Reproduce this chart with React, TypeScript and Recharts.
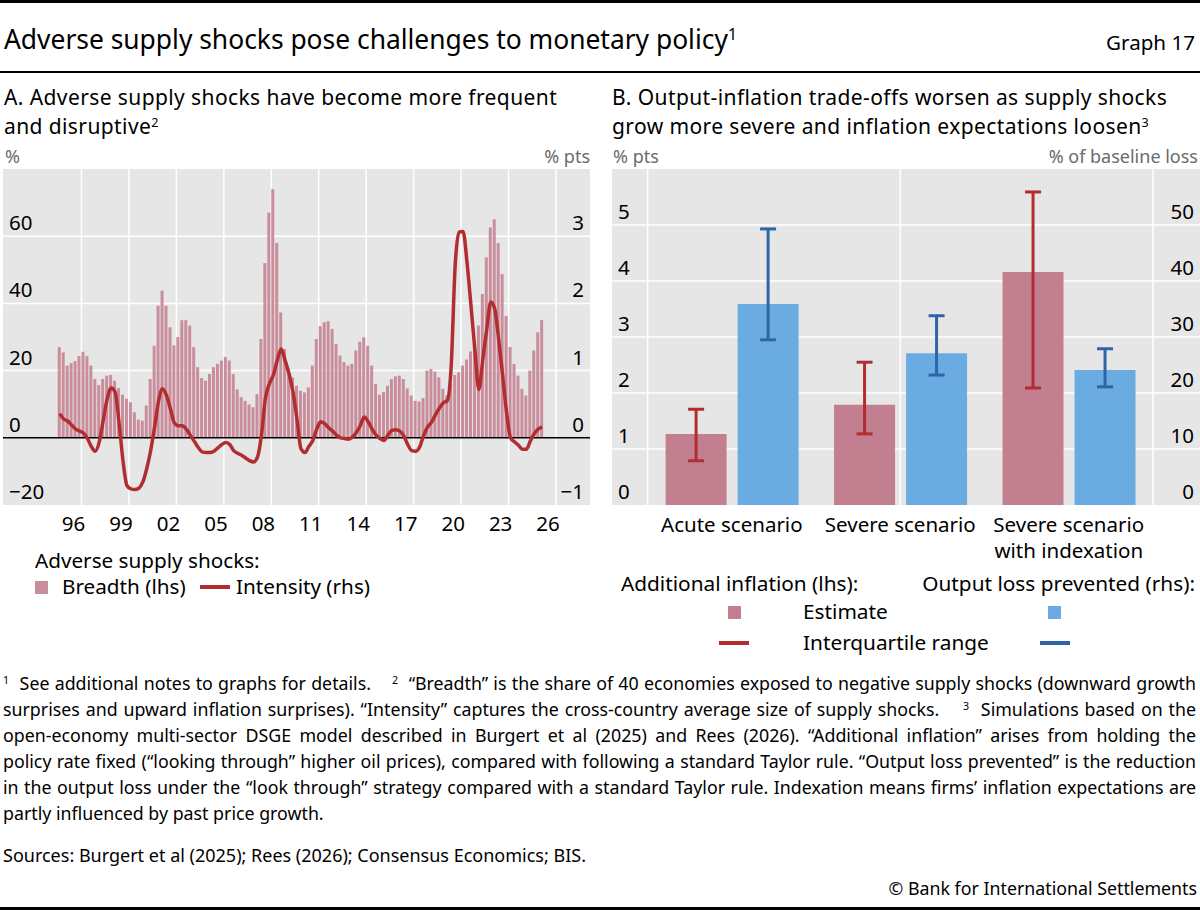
import {
  ComposedChart,
  BarChart,
  Bar,
  Line,
  XAxis,
  YAxis,
  CartesianGrid,
  ReferenceLine,
  ErrorBar,
} from 'recharts';

const FONT = "'Noto Sans', 'Open Sans', sans-serif";
const GREY = '#e6e6e6';
const PINK = '#c27f8f';
const BREADTH_PINK = '#c98d9b';
const RED = '#b22d30';
const BLUE = '#6aace1';
const DARK_BLUE = '#2f64a8';

// Panel A: quarterly observations, first one is Q3 1995 (plotted at mid-quarter)
const firstQuarter = 1995.625;
const breadth = [
  27, 25.4, 21.5, 22.2, 22.8, 24.3, 25.6, 24.3, 21.5, 17.5, 15.7, 17.5, 18.5, 18.7, 17, 14.8,
  12.8, 11.6, 10.6, 7.6, 5.4, 5.1, 9.6, 17.5, 27.4, 39.3, 43.8, 39.3, 32.9, 27.5, 30, 35,
  35, 33.4, 27, 21, 17.8, 17, 19, 21, 22, 23, 24, 23, 19, 14.4, 12.1, 11,
  9.9, 9.1, 13, 29.4, 52, 67, 74, 58, 37.3, 26.4, 20.3, 18, 15.5, 14, 13.5, 15,
  21.5, 29.4, 33.2, 34.4, 34.7, 32.4, 27.9, 24.5, 22.5, 21.5, 22, 26, 28.6, 29.9, 27.4, 21.5,
  16, 12.8, 13.6, 15.5, 17.5, 18.3, 18.5, 17.5, 14.7, 12.6, 11, 10.8, 11.8, 20, 20.5, 19.7,
  18, 14.6, 12.6, 16, 18.7, 19.5, 21.5, 23.3, 25.7, 27.9, 33.4, 42.8, 53.7, 62.6, 65, 58,
  48.7, 36.3, 27, 22, 18.5, 14.6, 12.6, 20, 26, 31.4, 35.1,
];
const intensity = [
  0.36, 0.28, 0.25, 0.19, 0.13, 0.1, 0.07, -0.01, -0.13, -0.2, -0.06, 0.26, 0.58, 0.74, 0.68, 0.23,
  -0.34, -0.71, -0.76, -0.77, -0.75, -0.66, -0.46, -0.19, 0.16, 0.55, 0.73, 0.63, 0.43, 0.22, 0.18, 0.18,
  0.13, 0.04, -0.05, -0.14, -0.21, -0.22, -0.22, -0.2, -0.15, -0.1, -0.07, -0.1, -0.19, -0.23, -0.26, -0.3,
  -0.34, -0.36, -0.29, 0.03, 0.58, 0.8, 0.93, 1.15, 1.32, 1.15, 0.95, 0.68, 0.28, -0.16, -0.22, -0.13,
  -0.04, 0.13, 0.24, 0.21, 0.15, 0.1, 0.04, 0, -0.01, -0.02, 0.01, 0.08, 0.18, 0.31, 0.24, 0.13,
  0.04, -0.01, -0.04, 0.04, 0.11, 0.12, 0.1, 0.03, -0.1, -0.19, -0.2, -0.14, 0.03, 0.16, 0.23, 0.34,
  0.44, 0.52, 0.55, 1.07, 2.56, 3.06, 3.07, 2.61, 1.97, 1.3, 0.72, 1.17, 1.62, 2.02, 1.92, 1.47,
  0.93, 0.38, 0, -0.06, -0.11, -0.17, -0.17, -0.05, 0.06, 0.13, 0.16,
];
const yearTicks = [
  1995, 1996, 1997, 1998, 1999, 2000, 2001, 2002, 2003, 2004, 2005, 2006, 2007, 2008, 2009, 2010, 2011,
  2012, 2013, 2014, 2015, 2016, 2017, 2018, 2019, 2020, 2021, 2022, 2023, 2024, 2025, 2026, 2027,
];
const majorYears = [1997, 2000, 2003, 2006, 2009, 2012, 2015, 2018, 2021, 2024, 2027];
const labelYears = [1996, 1999, 2002, 2005, 2008, 2011, 2014, 2017, 2020, 2023, 2026];
const leftTicksA = [-20, 0, 20, 40, 60];
const rightTicksA = [-1, 0, 1, 2, 3];

// Panel B
const scenarios = ['Acute scenario', 'Severe scenario', 'Severe scenario with indexation'];
const scenarioLines = [['Acute scenario'], ['Severe scenario'], ['Severe scenario', 'with indexation']];
const inflEstimate = [1.27, 1.79, 4.16];
const inflLow = [0.79, 1.27, 2.09];
const inflHigh = [1.71, 2.55, 5.59];
const outputEstimate = [35.9, 27.1, 24.1];
const outputLow = [29.5, 23.2, 21.1];
const outputHigh = [49.3, 33.8, 27.9];
const leftTicksB = [0, 1, 2, 3, 4, 5];
const rightTicksB = [0, 10, 20, 30, 40, 50];
const bandEdges = [0, 1, 2, 3];

const shockData = breadth.map((b, i) => ({
  t: firstQuarter + i * 0.25,
  breadth: b,
  intensity: intensity[i],
}));

const scenarioData = scenarios.map((name, i) => ({
  name,
  infl: inflEstimate[i],
  inflErr: [inflEstimate[i] - inflLow[i], inflHigh[i] - inflEstimate[i]],
  output: outputEstimate[i],
  outputErr: [outputEstimate[i] - outputLow[i], outputHigh[i] - outputEstimate[i]],
}));

const fmt = (v: number) => (v < 0 ? `\u2212${Math.abs(v)}` : String(v));

function YearTick({ x, y, payload }: any) {
  const major = (payload.value - 1997) % 3 === 0;
  return <line x1={x} x2={x} y1={y} y2={y - (major ? 17 : 8)} stroke="#000" strokeWidth={2} />;
}

function EdgeTick({ x, y }: any) {
  return <line x1={x} x2={x} y1={y} y2={y - 17} stroke="#000" strokeWidth={2} />;
}

function ScenarioTick({ x, y, payload }: any) {
  const lines = scenarioLines[scenarios.indexOf(payload.value)] || [];
  return (
    <text x={x} y={y} textAnchor="middle" fontSize={20.5} fill="#000">
      {lines.map((l, k) => (
        <tspan key={k} x={x} dy={k === 0 ? '0.71em' : 26}>
          {l}
        </tspan>
      ))}
    </text>
  );
}

// text placed by its baseline
function T({ x, y, size = 19, color = '#000', right, children, spacing }: any) {
  const pos: any = right !== undefined ? { right } : { left: x };
  return (
    <div
      style={{
        position: 'absolute',
        top: y - 1.069 * size,
        ...pos,
        fontSize: size,
        lineHeight: `${1.362 * size}px`,
        letterSpacing: spacing,
        color,
        whiteSpace: 'nowrap',
      }}
    >
      {children}
    </div>
  );
}

const Sup = ({ children }: any) => (
  <span style={{ fontSize: '0.6em', verticalAlign: '0.55em', lineHeight: 0 }}>{children}</span>
);

function Swatch({ x, y, color }: any) {
  return <div style={{ position: 'absolute', left: x, top: y - 6, width: 13, height: 13, background: color }} />;
}

function Dash({ x, y, color, w = 30 }: any) {
  return <div style={{ position: 'absolute', left: x, top: y - 2, width: w, height: 3.5, background: color }} />;
}

const notes = [
  <>
    <Sup>1</Sup>&nbsp; See additional notes to graphs for details.&nbsp;&nbsp;&nbsp; <Sup>2</Sup>&nbsp; “Breadth” is the
    share of 40 economies exposed to negative supply shocks (downward growth
  </>,
  <>
    surprises and upward inflation surprises). “Intensity” captures the cross-country average size of supply
    shocks.&nbsp;&nbsp;&nbsp; <Sup>3</Sup>&nbsp; Simulations based on the
  </>,
  <>
    open-economy multi-sector DSGE model described in Burgert et al (2025) and Rees (2026). “Additional inflation”
    arises from holding the
  </>,
  <>
    policy rate fixed (“looking through” higher oil prices), compared with following a standard Taylor rule. “Output
    loss prevented” is the reduction
  </>,
  <>
    in the output loss under the “look through” strategy compared with a standard Taylor rule. Indexation means firms’
    inflation expectations are
  </>,
  <>partly influenced by past price growth.</>,
];

function PanelA() {
  return (
    <ComposedChart
      width={587}
      height={376}
      data={shockData}
      margin={{ top: 0, right: 0, bottom: 0, left: 0 }}
    >
      <CartesianGrid
        xAxisId="t"
        yAxisId="left"
        fill={GREY}
        fillOpacity={1}
        stroke="#fff"
        strokeWidth={1.5}
        verticalValues={majorYears}
        horizontalValues={[20, 40, 60]}
      />
      <XAxis
        xAxisId="t"
        dataKey="t"
        type="number"
        domain={[1992.04, 2029.15]}
        allowDataOverflow
        ticks={yearTicks}
        interval={0}
        height={0}
        tickSize={0}
        tickMargin={0}
        axisLine={false}
        tickLine={false}
        tick={<YearTick />}
      />
      <XAxis
        xAxisId="lab"
        dataKey="t"
        type="number"
        domain={[1992.04, 2029.15]}
        allowDataOverflow
        ticks={labelYears.map((y) => y + 0.5)}
        tickFormatter={(v: number) => String(Math.floor(v)).slice(2)}
        interval={0}
        height={40}
        tickSize={0}
        tickMargin={11}
        axisLine={false}
        tickLine={false}
        tick={{ fontSize: 20.5, fill: '#000' }}
      />
      <YAxis yAxisId="left" domain={[-20, 80]} hide />
      <YAxis yAxisId="right" orientation="right" domain={[-1, 4]} hide />
      <Bar
        xAxisId="t"
        yAxisId="left"
        dataKey="breadth"
        fill={BREADTH_PINK}
        barSize={3}
        isAnimationActive={false}
      />
      {leftTicksA.map((v) => (
        <ReferenceLine
          key={`l${v}`}
          xAxisId="t"
          yAxisId="left"
          y={v}
          stroke={v === 0 ? '#000' : 'none'}
          strokeWidth={1.5}
          label={{ value: fmt(v), position: 'insideBottomLeft', offset: 6, fontSize: 20.5, fill: '#000' }}
        />
      ))}
      {rightTicksA.map((v) => (
        <ReferenceLine
          key={`r${v}`}
          xAxisId="t"
          yAxisId="right"
          y={v}
          stroke="none"
          label={{ value: fmt(v), position: 'insideBottomRight', offset: 6, fontSize: 20.5, fill: '#000' }}
        />
      ))}
      <Line
        xAxisId="t"
        yAxisId="right"
        dataKey="intensity"
        type="monotone"
        stroke={RED}
        strokeWidth={3.5}
        dot={false}
        isAnimationActive={false}
      />
    </ComposedChart>
  );
}

function PanelB() {
  const pad = { left: 35.6, right: 47 };
  return (
    <BarChart
      width={588}
      height={400}
      data={scenarioData}
      margin={{ top: 0, right: 0, bottom: 0, left: 0 }}
      barSize={61}
      barGap={11}
    >
      <CartesianGrid
        xAxisId="num"
        yAxisId="left"
        fill={GREY}
        fillOpacity={1}
        stroke="#fff"
        strokeWidth={1.5}
        verticalValues={bandEdges}
        horizontalValues={[1, 2, 3, 4, 5]}
      />
      <XAxis
        xAxisId="num"
        type="number"
        domain={[0, 3]}
        ticks={bandEdges}
        interval={0}
        padding={pad}
        height={0}
        tickSize={0}
        tickMargin={0}
        axisLine={false}
        tickLine={false}
        tick={<EdgeTick />}
      />
      <XAxis
        xAxisId="cat"
        dataKey="name"
        padding={pad}
        interval={0}
        height={64}
        tickSize={0}
        tickMargin={12}
        axisLine={false}
        tickLine={false}
        tick={<ScenarioTick />}
      />
      <YAxis yAxisId="left" domain={[0, 6]} hide />
      <YAxis yAxisId="right" orientation="right" domain={[0, 60]} hide />
      <Bar xAxisId="cat" yAxisId="left" dataKey="infl" fill={PINK} isAnimationActive={false}>
        <ErrorBar dataKey="inflErr" width={8} strokeWidth={3} stroke={RED} />
      </Bar>
      <Bar xAxisId="cat" yAxisId="right" dataKey="output" fill={BLUE} isAnimationActive={false}>
        <ErrorBar dataKey="outputErr" width={8} strokeWidth={3} stroke={DARK_BLUE} />
      </Bar>
      {leftTicksB.map((v) => (
        <ReferenceLine
          key={`l${v}`}
          xAxisId="num"
          yAxisId="left"
          y={v}
          stroke="none"
          label={{ value: fmt(v), position: 'insideBottomLeft', offset: 6, fontSize: 20.5, fill: '#000' }}
        />
      ))}
      {rightTicksB.map((v) => (
        <ReferenceLine
          key={`r${v}`}
          xAxisId="num"
          yAxisId="right"
          y={v}
          stroke="none"
          label={{ value: fmt(v), position: 'insideBottomRight', offset: 6, fontSize: 20.5, fill: '#000' }}
        />
      ))}
    </BarChart>
  );
}

export default function App() {
  return (
    <div style={{ position: 'relative', width: 1200, height: 910, background: '#fff', fontFamily: FONT, overflow: 'hidden' }}>
      <style>{'body{margin:0}'}</style>
      <div style={{ position: 'absolute', left: 0, top: 0, width: 1200, height: 3, background: '#000' }} />
      <T x={4} y={50} size={26.4}>
        Adverse supply shocks pose challenges to monetary policy<Sup>1</Sup>
      </T>
      <T right={5} y={50} size={20.6}>
        Graph 17
      </T>
      <div style={{ position: 'absolute', left: 0, top: 71, width: 1200, height: 1.5, background: '#000' }} />

      <T x={4} y={105.5} size={21} spacing={0.4}>
        A. Adverse supply shocks have become more frequent
      </T>
      <T x={4} y={134.2} size={21} spacing={0.4}>
        and disruptive<Sup>2</Sup>
      </T>
      <T x={5} y={163} size={18} color="#6b6b6b">
        %
      </T>
      <T right={1200 - 590} y={163} size={18} color="#6b6b6b">
        % pts
      </T>

      <T x={612} y={105.5} size={21} spacing={0.4}>
        B. Output-inflation trade-offs worsen as supply shocks
      </T>
      <T x={612} y={134.2} size={21} spacing={0.4}>
        grow more severe and inflation expectations loosen<Sup>3</Sup>
      </T>
      <T x={613} y={163} size={18} color="#6b6b6b">
        % pts
      </T>
      <T right={2} y={163} size={18} color="#6b6b6b">
        % of baseline loss
      </T>

      <div style={{ position: 'absolute', left: 3, top: 169 }}>
        <PanelA />
      </div>
      <div style={{ position: 'absolute', left: 612, top: 169 }}>
        <PanelB />
      </div>

      <T x={35} y={568} size={20.7}>
        Adverse supply shocks:
      </T>
      <Swatch x={35} y={587} color={BREADTH_PINK} />
      <T x={62} y={594} size={20.7}>
        Breadth (lhs)
      </T>
      <Dash x={200} y={587} color={RED} />
      <T x={236} y={594} size={20.7}>
        Intensity (rhs)
      </T>

      <T x={621} y={591} size={20.8}>
        Additional inflation (lhs):
      </T>
      <T right={5} y={591} size={20.8}>
        Output loss prevented (rhs):
      </T>
      <Swatch x={728} y={612} color={PINK} />
      <T x={803} y={619} size={20.8}>
        Estimate
      </T>
      <Swatch x={1048} y={612} color={BLUE} />
      <Dash x={719} y={643} color={RED} />
      <T x={803} y={650} size={20.8}>
        Interquartile range
      </T>
      <Dash x={1040} y={643} color={DARK_BLUE} />

      {notes.map((n, i) => (
        <div
          key={i}
          style={{
            position: 'absolute',
            left: 3,
            top: 691 - 1.069 * 17.8 - 0.5 + i * 26,
            width: 1193,
            fontSize: 17.8,
            lineHeight: '25px',
            whiteSpace: 'nowrap',
            textAlign: 'justify',
            textAlignLast: i === notes.length - 1 ? 'left' : 'justify',
          }}
        >
          {n}
        </div>
      ))}
      <T x={3} y={862} size={18}>
        Sources: Burgert et al (2025); Rees (2026); Consensus Economics; BIS.
      </T>
      <T right={3} y={895} size={17.8}>
        © Bank for International Settlements
      </T>
      <div style={{ position: 'absolute', left: 0, top: 907, width: 1200, height: 3, background: '#000' }} />
    </div>
  );
}
